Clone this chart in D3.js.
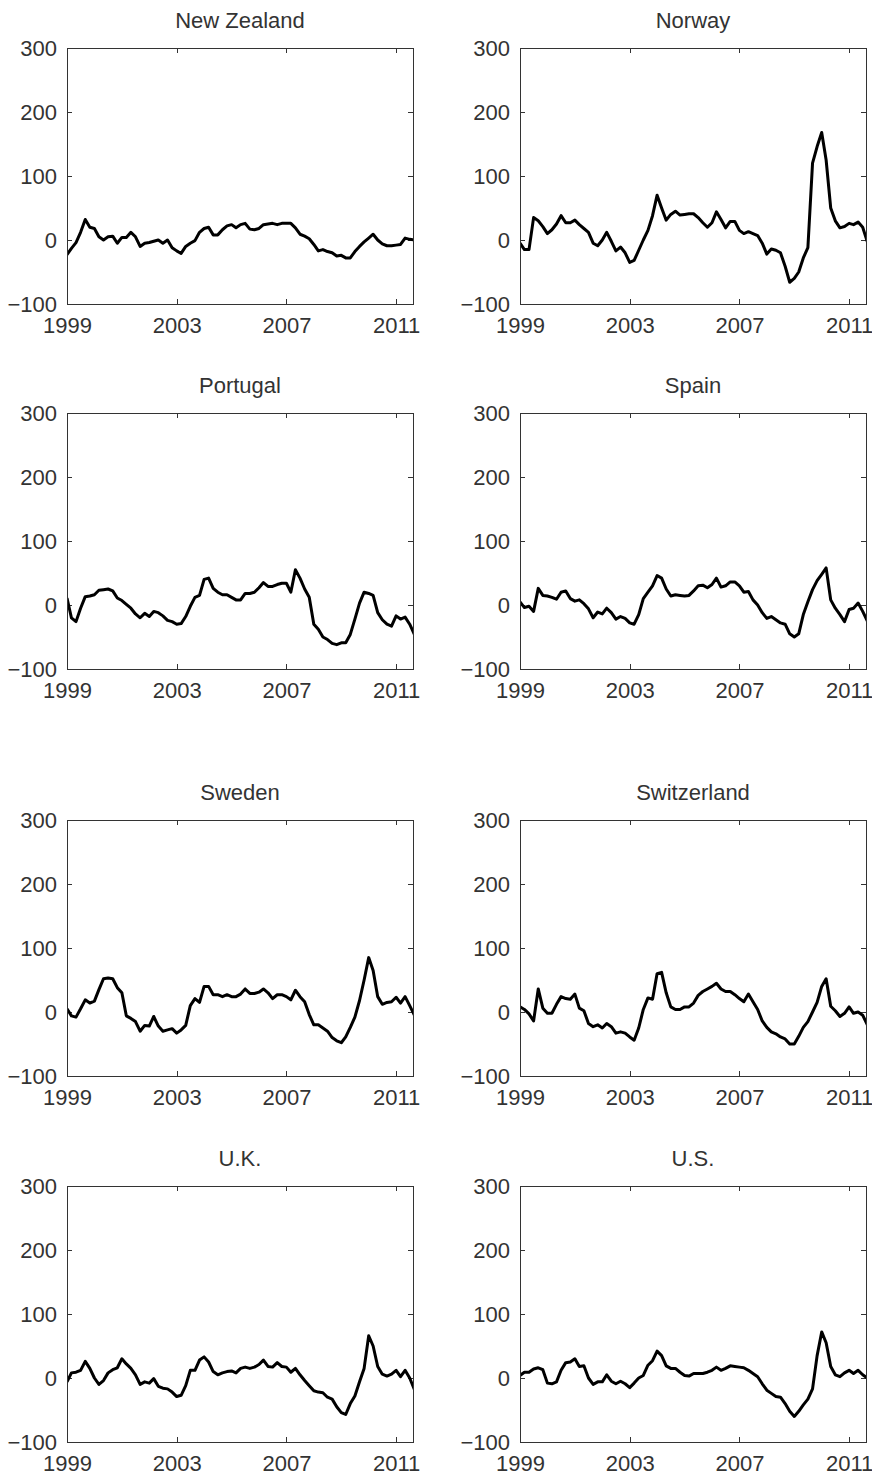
<!DOCTYPE html>
<html>
<head>
<meta charset="utf-8">
<script src="https://cdnjs.cloudflare.com/ajax/libs/d3/7.8.5/d3.min.js"></script>
<style>
    body { margin: 0; background: #fff; }
    svg text { font-family: "Liberation Sans", Arial, sans-serif; font-size: 22px; fill: #333; }
</style>
</head>
<body>
<div id="chart"></div>
<script>
// Panel titles, in reading order
var countries = ["New Zealand", "Norway", "Portugal", "Spain", "Sweden", "Switzerland", "U.K.", "U.S."];
var yearTicks = [1999, 2003, 2007, 2011];
var valueTicks = [-100, 0, 100, 200, 300];

// One reading every two months, starting January 1999
var newZealand = [-23, -13, -4, 12, 32, 20, 18, 5, 0, 5, 6, -5, 4, 4, 12, 5, -10, -5, -4, -2,
    0, -5, 0, -12, -17, -21, -10, -5, -1, 12, 18, 20, 8, 8, 16, 22, 24, 19, 24, 26,
    17, 16, 18, 24, 25, 26, 24, 26, 26, 26, 19, 9, 6, 2, -7, -17, -15, -18, -20, -25,
    -24, -28, -28, -18, -10, -3, 3, 9, 0, -6, -9, -9, -8, -7, 3, 1, 0];
var norway = [-5, -15, -15, 35, 30, 21, 10, 16, 25, 38, 27, 27, 31, 24, 18, 12, -5, -9, 0, 12,
    -2, -17, -11, -20, -35, -32, -16, 0, 15, 38, 70, 50, 31, 40, 45, 39, 40, 41, 41, 35,
    27, 20, 27, 44, 32, 19, 29, 29, 15, 10, 13, 10, 7, -5, -22, -14, -16, -20, -41, -66,
    -60, -50, -28, -12, 120, 146, 168, 125, 50, 30, 19, 21, 26, 24, 28, 20, -3];
var portugal = [11, -20, -26, -5, 13, 14, 16, 23, 24, 25, 22, 11, 7, 1, -5, -14, -20, -13, -18, -10,
    -12, -17, -24, -26, -30, -29, -18, -2, 12, 15, 40, 42, 26, 20, 16, 16, 12, 8, 8, 18,
    18, 20, 27, 35, 29, 29, 32, 34, 34, 20, 55, 42, 25, 12, -30, -38, -50, -54, -60, -62,
    -59, -59, -46, -22, 3, 20, 18, 15, -12, -23, -30, -33, -17, -22, -19, -30, -46];
var spain = [5, -4, -2, -10, 26, 15, 14, 12, 9, 20, 22, 10, 6, 8, 2, -6, -20, -11, -14, -5,
    -12, -22, -18, -21, -28, -30, -15, 10, 20, 30, 46, 42, 25, 14, 16, 15, 14, 15, 22, 30,
    31, 27, 32, 42, 28, 30, 36, 36, 30, 20, 21, 8, 0, -12, -21, -18, -23, -28, -30, -45,
    -50, -45, -15, 5, 24, 38, 48, 58, 8, -5, -15, -26, -7, -5, 3, -10, -25];
var sweden = [5, -6, -8, 5, 19, 14, 17, 35, 52, 53, 52, 38, 30, -6, -10, -15, -30, -21, -22, -7,
    -22, -30, -28, -26, -33, -28, -21, 10, 21, 15, 40, 40, 27, 27, 24, 27, 24, 24, 28, 36,
    29, 29, 31, 36, 30, 21, 27, 27, 24, 19, 34, 24, 16, -4, -20, -20, -25, -30, -40, -45,
    -48, -39, -24, -8, 18, 50, 85, 65, 24, 12, 15, 16, 23, 14, 24, 10, -5];
var switzerland = [8, 4, -3, -14, 36, 6, -2, -2, 12, 24, 21, 20, 28, 6, 2, -18, -23, -20, -25, -18,
    -23, -33, -31, -33, -39, -44, -25, 4, 22, 20, 60, 62, 30, 8, 4, 4, 8, 8, 14, 26,
    32, 36, 40, 45, 36, 32, 32, 27, 21, 16, 28, 16, 4, -14, -24, -31, -34, -39, -42, -50,
    -50, -38, -24, -15, 0, 15, 40, 52, 9, 2, -7, -2, 8, -2, 0, -5, -20];
var uk = [-6, 8, 9, 12, 26, 15, 0, -10, -4, 8, 13, 16, 30, 22, 15, 5, -10, -6, -8, -1,
    -13, -16, -17, -22, -29, -27, -12, 12, 12, 28, 33, 25, 10, 5, 8, 10, 11, 8, 15, 17,
    15, 17, 21, 28, 18, 17, 24, 18, 17, 9, 15, 5, -4, -12, -20, -22, -23, -30, -33, -45,
    -54, -57, -40, -28, -6, 15, 66, 50, 18, 6, 3, 6, 12, 2, 12, 0, -18];
var us = [4, 9, 9, 14, 16, 13, -8, -9, -6, 12, 24, 25, 30, 18, 19, 0, -10, -6, -6, 5,
    -5, -9, -5, -9, -15, -8, 0, 4, 20, 27, 42, 35, 19, 15, 15, 9, 4, 3, 7, 7,
    7, 9, 12, 17, 12, 15, 19, 18, 17, 16, 12, 7, 2, -9, -19, -24, -29, -30, -40, -52,
    -60, -52, -42, -33, -17, 35, 72, 55, 18, 5, 2, 8, 12, 7, 12, 5, 0];

var series = [newZealand, norway, portugal, spain, sweden, switzerland, uk, us];

/** Class implementing the grid of small panels. */
class PanelGrid {
    constructor() {
        this.width = 872;
        this.height = 1477;
        this.panelWidth = 346;
        this.panelHeight = 256;
        // left edge of each column and top edge of each row
        this.lefts = [67, 520];
        this.tops = [48, 413, 820, 1186];

        this.svg = d3.select("#chart")
            .append("svg")
            .attr("width", this.width)
            .attr("height", this.height);

        this.x = d3.scaleTime()
            .domain([new Date(1999, 0, 1), new Date(2011, 7, 14)])
            .range([0, this.panelWidth]);
        this.y = d3.scaleLinear()
            .domain([-100, 300])
            .range([this.panelHeight, 0]);
    }

    drawAll() {
        for (var i = 0; i < countries.length; i++) {
            var left = this.lefts[i % 2];
            var top = this.tops[Math.floor(i / 2)];
            this.drawPanel(i, left, top);
        }
    }

    drawPanel(i, left, top) {
        var self = this;
        var w = this.panelWidth;
        var h = this.panelHeight;
        var g = this.svg.append("g")
            .attr("transform", "translate(" + left + "," + top + ")");

        var yearDates = yearTicks.map(function(yr) { return new Date(yr, 0, 1); });

        // bottom axis with labels, ticks pointing inwards
        g.append("g")
            .attr("transform", "translate(0," + h + ")")
            .call(d3.axisBottom(this.x).tickValues(yearDates).tickSizeInner(-5).tickSizeOuter(0)
                .tickPadding(13).tickFormat(d3.timeFormat("%Y")))
            .call(this.styleAxis);
        // top axis, ticks only
        g.append("g")
            .call(d3.axisTop(this.x).tickValues(yearDates).tickSizeInner(-5).tickSizeOuter(0).tickFormat(""))
            .call(this.styleAxis);
        // left axis with labels
        g.append("g")
            .call(d3.axisLeft(this.y).tickValues(valueTicks).tickSizeInner(-5).tickSizeOuter(0).tickPadding(10))
            .call(this.styleAxis);
        // right axis, ticks only
        g.append("g")
            .attr("transform", "translate(" + w + ",0)")
            .call(d3.axisRight(this.y).tickValues(valueTicks).tickSizeInner(-5).tickSizeOuter(0).tickFormat(""))
            .call(this.styleAxis);

        // clip so the last reading stops at the frame
        var clipId = "clip" + i;
        g.append("clipPath").attr("id", clipId)
            .append("rect").attr("width", w).attr("height", h);

        var values = series[i];
        var line = d3.line()
            .x(function(d, j) { return self.x(new Date(1999, j * 2, 1)); })
            .y(function(d) { return self.y(d); });

        g.append("path")
            .datum(values)
            .attr("clip-path", "url(#" + clipId + ")")
            .attr("d", line)
            .attr("fill", "none")
            .attr("stroke", "#000")
            .attr("stroke-width", 3)
            .attr("stroke-linejoin", "round");

        // frame
        g.append("rect")
            .attr("width", w)
            .attr("height", h)
            .attr("fill", "none")
            .attr("stroke", "#333")
            .attr("stroke-width", 1)
            .attr("shape-rendering", "crispEdges");

        // title
        g.append("text")
            .attr("x", w / 2)
            .attr("y", -20)
            .attr("text-anchor", "middle")
            .text(countries[i]);
    }

    styleAxis(sel) {
        sel.select(".domain").remove();
        sel.selectAll(".tick line")
            .attr("stroke", "#333")
            .attr("shape-rendering", "crispEdges");
        sel.selectAll(".tick text")
            .attr("fill", "#333")
            .style("font-size", "22px")
            .style("font-family", "\"Liberation Sans\", Arial, sans-serif");
    }
}

var grid = new PanelGrid();
grid.drawAll();
</script>
</body>
</html>
